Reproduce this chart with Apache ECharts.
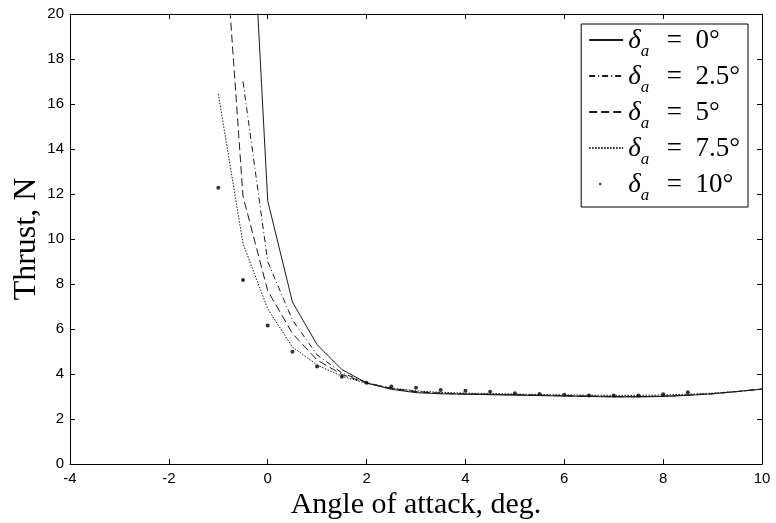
<!DOCTYPE html>
<html>
<head>
<meta charset="utf-8">
<script src="https://cdn.jsdelivr.net/npm/echarts@6/dist/echarts.min.js"></script>
<style>
  html, body { margin: 0; padding: 0; background: #fff; }
  #chart { width: 776px; height: 523px; }
</style>
</head>
<body>
<div id="chart"></div>
<script>
// angle of attack, deg.
var angles = [-1, -0.5, 0, 0.5, 1, 1.5, 2, 2.5, 3, 3.5, 4, 4.5, 5, 5.5, 6, 6.5, 7, 7.5, 8, 8.5, 9, 9.5, 10];

// thrust, N for each aileron deflection (null = no point)
var thrust0  = [null, 32.5, 11.7, 7.2, 5.3, 4.2, 3.6, 3.32, 3.17, 3.12, 3.1, 3.08, 3.06, 3.04, 3.02, 3.0, 2.98, 2.98, 3.0, 3.05, 3.12, 3.22, 3.33];
var thrust25 = [null, 17.0, 9.0, 6.4, 4.85, 4.05, 3.62, 3.35, 3.2, 3.14, 3.11, 3.09, 3.07, 3.05, 3.03, 3.01, 2.99, 2.99, 3.01, 3.06, 3.12, 3.22, 3.33];
var thrust5  = [27.6, 11.9, 7.7, 5.8, 4.62, 3.98, 3.6, 3.36, 3.22, 3.15, 3.12, 3.1, 3.08, 3.06, 3.04, 3.02, 3.0, 3.0, 3.02, 3.07, 3.13, 3.22, 3.33];
var thrust75 = [16.45, 9.8, 6.9, 5.2, 4.4, 3.9, 3.58, 3.38, 3.25, 3.18, 3.15, 3.13, 3.11, 3.09, 3.07, 3.06, 3.05, 3.05, 3.07, 3.1, 3.15, 3.23, 3.33];
var thrust10 = [12.28, 8.18, 6.16, 4.99, 4.33, 3.88, 3.61, 3.44, 3.39, 3.29, 3.26, 3.21, 3.14, 3.11, 3.08, 3.05, 3.05, 3.05, 3.1, 3.19, null, null, null];

var seriesNames = ['δa = 0°', 'δa = 2.5°', 'δa = 5°', 'δa = 7.5°', 'δa = 10°'];

function pairs(values) {
    var out = [];
    values.forEach(function (v, i) {
        if (v !== null) out.push([angles[i], v]);
    });
    return out;
}

function lineSeries(name, values, dash) {
    return {
        name: name,
        type: 'line',
        data: pairs(values),
        showSymbol: false,
        symbol: 'none',
        clip: true,
        lineStyle: { color: '#1a1a1a', width: 1, type: dash },
        itemStyle: { color: '#1a1a1a' },
        z: 3
    };
}

var serif = '"Liberation Serif", "DejaVu Serif", serif';
var sans = '"Liberation Sans", Arial, sans-serif';

var tickStyle = { inside: true, length: 5, lineStyle: { color: '#000', width: 1 } };
var axisLineStyle = { show: true, onZero: false, lineStyle: { color: '#000', width: 1 } };

// hide the round marker ECharts puts on line legend icons
var noMarker = { opacity: 0 };

var option = {
    animation: false,
    backgroundColor: '#fff',
    grid: { left: 70, right: 14, top: 14, bottom: 59, containLabel: false, outerBoundsMode: 'none' },
    xAxis: [
        {
            type: 'value', min: -4, max: 10, interval: 2,
            name: 'Angle of attack, deg.', nameLocation: 'middle', nameGap: 26, nameMoveOverlap: false,
            nameTextStyle: { fontFamily: serif, fontSize: 30, color: '#000' },
            axisLine: axisLineStyle,
            axisTick: tickStyle,
            axisLabel: { fontFamily: sans, fontSize: 15, color: '#000', margin: 7 },
            splitLine: { show: false }
        },
        {
            type: 'value', min: -4, max: 10, interval: 2, position: 'top',
            axisLine: axisLineStyle,
            axisTick: tickStyle,
            axisLabel: { show: false },
            splitLine: { show: false }
        }
    ],
    yAxis: [
        {
            type: 'value', min: 0, max: 20, interval: 2,
            name: 'Thrust, N', nameLocation: 'middle', nameGap: 27, nameMoveOverlap: false,
            nameTextStyle: { fontFamily: serif, fontSize: 32, color: '#000' },
            axisLine: axisLineStyle,
            axisTick: tickStyle,
            axisLabel: { fontFamily: sans, fontSize: 15, color: '#000', margin: 6 },
            splitLine: { show: false }
        },
        {
            type: 'value', min: 0, max: 20, interval: 2, position: 'right',
            axisLine: axisLineStyle,
            axisTick: tickStyle,
            axisLabel: { show: false },
            splitLine: { show: false }
        }
    ],
    legend: {
        orient: 'vertical',
        right: 28,
        top: 24,
        padding: [3, 8, 3, 7],
        itemGap: 3,
        itemWidth: 34,
        itemHeight: 14,
        backgroundColor: '#fff',
        borderColor: '#000',
        borderWidth: 1,
        data: [
            { name: seriesNames[0], itemStyle: noMarker },
            { name: seriesNames[1], itemStyle: noMarker },
            { name: seriesNames[2], itemStyle: noMarker },
            { name: seriesNames[3], itemStyle: noMarker },
            { name: seriesNames[4], icon: 'path://M0,0 L0.01,0 Z M34,14 L34.01,14 Z M11,5.8 A1.2,1.2 0 1 1 11,8.2 A1.2,1.2 0 1 1 11,5.8 Z' }
        ],
        formatter: function (name) {
            return '{d|δ}{s|a}{t|  =  ' + name.split('= ')[1] + '}';
        },
        textStyle: {
            color: '#000',
            fontFamily: serif,
            rich: {
                d: { fontFamily: serif, fontSize: 27, fontStyle: 'italic', lineHeight: 28, verticalAlign: 'bottom' },
                s: { fontFamily: serif, fontSize: 17, fontStyle: 'italic', lineHeight: 28, verticalAlign: 'bottom', padding: [0, 4, -6, 0] },
                t: { fontFamily: serif, fontSize: 27, lineHeight: 28, verticalAlign: 'bottom' }
            }
        }
    },
    series: [
        lineSeries(seriesNames[0], thrust0, 'solid'),
        lineSeries(seriesNames[1], thrust25, [6, 3, 1, 3]),
        lineSeries(seriesNames[2], thrust5, [8, 4]),
        lineSeries(seriesNames[3], thrust75, [1.5, 1.5]),
        {
            name: seriesNames[4],
            type: 'scatter',
            data: pairs(thrust10),
            symbol: 'circle',
            symbolSize: 4,
            itemStyle: { color: '#000' },
            z: 4
        }
    ]
};

var chart = echarts.init(document.getElementById('chart'), null, { renderer: 'canvas' });
chart.setOption(option);
</script>
</body>
</html>
